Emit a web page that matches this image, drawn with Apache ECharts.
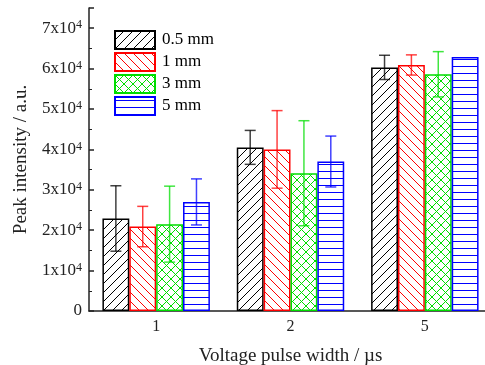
<!DOCTYPE html>
<html><head><meta charset="utf-8">
<script src="https://cdn.jsdelivr.net/npm/echarts@6/dist/echarts.min.js"></script>
<style>html,body{margin:0;padding:0;background:#fff}#c{width:485px;height:365px}</style>
</head><body><div id="c"></div>
<script>
const categories = ['1', '2', '5'];
const seriesNames = ['0.5 mm', '1 mm', '3 mm', '5 mm'];
const values05 = [22900, 40500, 60300];
const values1 = [20900, 40000, 60900];
const values3 = [21500, 34100, 58600];
const values5 = [27000, 37000, 62900];
const err05 = [8100, 4200, 3000];
const err1 = [5000, 9600, 2500];
const err3 = [9400, 13000, 5600];
const err5 = [5700, 6300, 0];
const yTicks = [0, 10000, 20000, 30000, 40000, 50000, 60000, 70000];

const colors = ['#000000', '#ff0000', '#00dd00', '#0000ff'];
const patternTypes = ['fwd', 'back', 'cross', 'horiz'];

function makePattern(type, color) {
  const c = document.createElement('canvas');
  const s = type === 'horiz' ? 7 : 9;
  c.width = type === 'horiz' ? 8 : s; c.height = s;
  const g = c.getContext('2d');
  g.fillStyle = '#fff'; g.fillRect(0, 0, c.width, c.height);
  g.strokeStyle = color; g.lineWidth = 1;
  function ln(x1, y1, x2, y2) { g.beginPath(); g.moveTo(x1, y1); g.lineTo(x2, y2); g.stroke(); }
  if (type === 'fwd' || type === 'cross') {
    ln(-1, s + 1, s + 1, -1); ln(-2, 2, 2, -2); ln(s - 2, s + 2, s + 2, s - 2);
  }
  if (type === 'back' || type === 'cross') {
    ln(-1, -1, s + 1, s + 1); ln(-2, s - 2, 2, s + 2); ln(s - 2, -2, s + 2, 2);
  }
  if (type === 'horiz') {
    ln(0, 3.5, 8, 3.5);
  }
  return { image: c, repeat: 'repeat' };
}

const valueSets = [values05, values1, values3, values5];
const errSets = [err05, err1, err3, err5];

const series = [];
seriesNames.forEach((name, i) => {
  series.push({
    name: name, type: 'bar', barWidth: '20%', barGap: '0%',
    data: valueSets[i],
    itemStyle: { color: makePattern(patternTypes[i], colors[i]), borderColor: colors[i], borderWidth: 1.5 },
    emphasis: { disabled: true }, z: 2
  });
});
seriesNames.forEach((name, i) => {
  series.push({
    type: 'custom', z: 5, silent: true,
    data: categories.map((c, k) => [k, valueSets[i][k], errSets[i][k]]),
    renderItem: function (params, api) {
      const k = api.value(0), v = api.value(1), e = api.value(2);
      if (!e) return null;
      const band = api.size([1, 0])[0];
      const bw = band * 0.2;
      const p = api.coord([k, v]);
      const x = p[0] + (i - 1.5) * bw;
      const yHi = api.coord([k, v + e])[1];
      const yLo = api.coord([k, v - e])[1];
      const hw = 5.5;
      const st = { stroke: colors[i], lineWidth: 1.5, opacity: 0.75 };
      return { type: 'group', children: [
        { type: 'line', shape: { x1: x, y1: yHi, x2: x, y2: yLo }, style: st },
        { type: 'line', shape: { x1: x - hw, y1: yHi, x2: x + hw, y2: yHi }, style: st },
        { type: 'line', shape: { x1: x - hw, y1: yLo, x2: x + hw, y2: yLo }, style: st }
      ]};
    }
  });
});

const font = 'Liberation Serif';
const chart = echarts.init(document.getElementById('c'), null, { renderer: 'canvas' });
chart.setOption({
  animation: false,
  backgroundColor: '#fff',
  textStyle: { fontFamily: font },
  grid: { left: 89, right: -7, top: 8, bottom: 54, containLabel: false, outerBoundsMode: 'none' },
  legend: {
    data: seriesNames, left: 109, top: 25, orient: 'vertical',
    itemWidth: 40, itemHeight: 18, itemGap: 2, icon: 'rect',
    textStyle: { fontFamily: font, fontSize: 17, color: '#000', padding: [0, 0, 0, 2] }
  },
  xAxis: {
    type: 'category', data: categories,
    axisLine: { lineStyle: { color: '#222', width: 1.5 } },
    axisTick: { show: false },
    axisLabel: { fontFamily: font, fontSize: 16, color: '#222', margin: 8 },
    name: 'Voltage pulse width / \u00b5s', nameLocation: 'middle', nameGap: 36,
    nameTextStyle: { fontFamily: font, fontSize: 19, color: '#222' }
  },
  yAxis: {
    type: 'value', min: 0, max: 75000, interval: 10000,
    axisLine: { show: true, lineStyle: { color: '#222', width: 1.5 } },
    axisTick: { show: true, inside: true, length: 5, lineStyle: { color: '#222', width: 1.5 } },
    minorTick: { show: true, splitNumber: 2, length: 3, lineStyle: { color: '#222', width: 1 } },
    splitLine: { show: false },
    axisLabel: {
      margin: 7, color: '#222', fontFamily: font, fontSize: 17,
      formatter: function (v) {
        if (yTicks.indexOf(v) < 0) return '';
        if (v === 0) return '0';
        return '{a|' + (v / 10000) + 'x10}{b|4}';
      },
      rich: {
        a: { fontFamily: font, fontSize: 17, color: '#222' },
        b: { fontFamily: font, fontSize: 12, color: '#222', verticalAlign: 'top', padding: [0, 0, 6, 0] }
      }
    },
    name: 'Peak intensity / a.u.', nameLocation: 'middle', nameGap: 58,
    nameTextStyle: { fontFamily: font, fontSize: 19, color: '#222' }
  },
  series: series
});
</script></body></html>
